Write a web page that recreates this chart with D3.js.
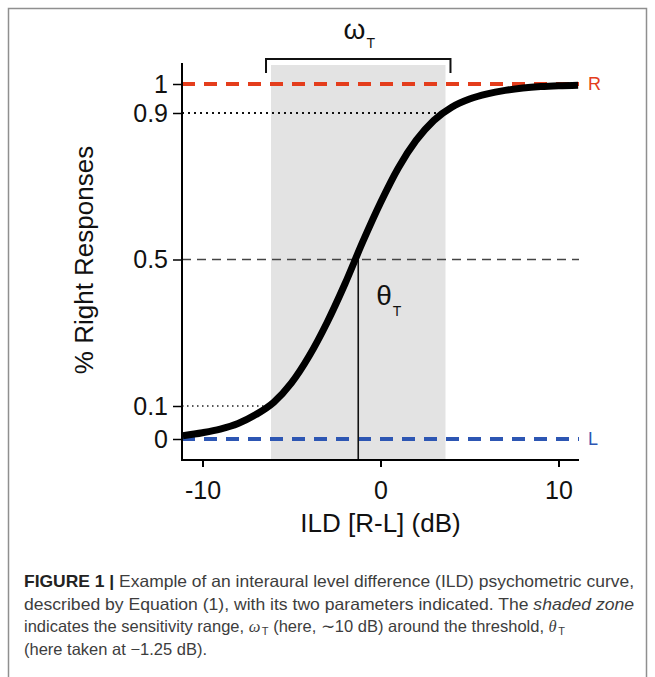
<!DOCTYPE html>
<html>
<head>
<meta charset="utf-8">
<script src="https://cdn.jsdelivr.net/npm/d3@7"></script>
<style>
  body { margin: 0; background: #fff; }
  svg { display: block; }
  text { font-family: "Liberation Sans", Arial, Helvetica, sans-serif; }
</style>
</head>
<body>
<svg id="fig" width="655" height="677"></svg>
<script>
// ILD psychometric curve: sampled ILD values (dB) and proportion of rightward responses
const ild    = [-11.1, -10,   -9,    -8,    -7,    -6,    -5,    -4,   -3,   -2,    -1,   0,     1,    2,     3,    4,    5,     6,     7,     8,     9,     10,    11.1];
const pRight = [0.010, 0.019, 0.030, 0.047, 0.074, 0.110, 0.163, 0.237, 0.328, 0.433, 0.548, 0.655, 0.750, 0.825, 0.880, 0.920, 0.948, 0.966, 0.978, 0.986, 0.991, 0.994, 0.996];

// Fitted parameters
const threshold = -1.25;      // θT (dB)
const sensitivityRange = 9.8; // ωT (dB), spans the 10%–90% responses

// Axes
const xDomain = [-11.15, 11.15];
const xTickValues = [-10, 0, 10];
const xTickLabels = ["-10", "0", "10"];
const yTickValues = [0, 0.1, 0.5, 0.9, 1];
const yTickLabels = ["0", "0.1", "0.5", "0.9", "1"];

// Response bounds (all-left / all-right)
const boundLevels = [1, 0];
const boundLabels = ["R", "L"];
const boundColors = ["#e43d1c", "#2d56b3"];

// Caption lines (the first two are justified to the full measure)
const captionLines = [
  [{t: "FIGURE 1 | ", w: "bold"}, {t: "Example of an interaural level difference (ILD) psychometric curve,"}],
  [{t: "described by Equation (1), with its two parameters indicated. The "}, {t: "shaded zone", i: true}],
  [{t: "indicates the sensitivity range, "}, {t: "ω", m: true}, {t: "T", sub: true}, {t: " (here, ∼10 dB) around the threshold, "}, {t: "θ", m: true}, {t: "T", sub: true}],
  [{t: "(here taken at −1.25 dB)."}]
];
const captionWidths = [610, 610, null, null];

const svg = d3.select("#fig");

// Frame
svg.append("rect")
  .attr("x", 8.5).attr("y", 8.5)
  .attr("width", 638).attr("height", 720)
  .attr("fill", "none").attr("stroke", "#8f8f8f").attr("stroke-width", 1.5);

// Plot geometry
const left = 182, right = 579, axisY = 460, axisTop = 63;

const x = d3.scaleLinear().domain(xDomain).range([left, right]);
// Piecewise-linear response scale through the labelled levels
const y = d3.scaleLinear().domain([0, 0.1, 0.9, 1]).range([439, 406, 113, 84]);

const lo = threshold - sensitivityRange / 2;
const hi = threshold + sensitivityRange / 2;

// Shaded sensitivity range
svg.append("rect")
  .attr("x", x(lo)).attr("y", 65)
  .attr("width", x(hi) - x(lo)).attr("height", axisY - 65)
  .attr("fill", "#e3e3e3");

// Bracket marking ωT
const bx0 = x(lo) - 5, bx1 = x(hi) + 5;
svg.append("path")
  .attr("d", `M${bx0},73V59H${bx1}V73`)
  .attr("fill", "none").attr("stroke", "#111").attr("stroke-width", 2);

const omega = svg.append("text")
  .attr("x", (bx0 + bx1) / 2 + 1).attr("y", 39)
  .attr("text-anchor", "middle").attr("font-size", 28).attr("fill", "#111");
omega.append("tspan").text("ω");
omega.append("tspan").attr("font-size", 14).attr("dy", 9).attr("dx", 1).text("T");

// 0.5 level, dashed
svg.append("line")
  .attr("x1", left).attr("x2", right)
  .attr("y1", y(0.5)).attr("y2", y(0.5))
  .attr("stroke", "#444").attr("stroke-width", 1.3)
  .attr("stroke-dasharray", "9,6");

// 0.9 and 0.1 levels, dotted up to the curve
svg.append("line")
  .attr("x1", left).attr("x2", x(hi) - 4)
  .attr("y1", y(0.9)).attr("y2", y(0.9))
  .attr("stroke", "#111").attr("stroke-width", 2)
  .attr("stroke-dasharray", "2,4");
svg.append("line")
  .attr("x1", left).attr("x2", x(lo) - 4)
  .attr("y1", y(0.1)).attr("y2", y(0.1))
  .attr("stroke", "#222").attr("stroke-width", 1.5)
  .attr("stroke-dasharray", "1.5,3.5");

// Bound lines and labels
boundLevels.forEach((lv, i) => {
  svg.append("line")
    .attr("x1", left).attr("x2", right)
    .attr("y1", y(lv)).attr("y2", y(lv))
    .attr("stroke", boundColors[i]).attr("stroke-width", 4)
    .attr("stroke-dasharray", "13,9");
  svg.append("text")
    .attr("x", right + 9).attr("y", y(lv))
    .attr("dy", "0.36em")
    .attr("font-size", 18).attr("fill", boundColors[i])
    .text(boundLabels[i]);
});

// Threshold marker
svg.append("line")
  .attr("x1", x(threshold)).attr("x2", x(threshold))
  .attr("y1", y(0.5)).attr("y2", axisY)
  .attr("stroke", "#111").attr("stroke-width", 1.6);

const theta = svg.append("text")
  .attr("x", x(threshold) + 18).attr("y", 305)
  .attr("font-size", 28).attr("fill", "#111");
theta.append("tspan").text("θ");
theta.append("tspan").attr("font-size", 14).attr("dy", 11).attr("dx", 1).text("T");

// Psychometric curve
const pts = ild.map((d, i) => [d, pRight[i]]);
svg.append("path")
  .datum(pts)
  .attr("d", d3.line().x(d => x(d[0])).y(d => y(d[1])).curve(d3.curveMonotoneX))
  .attr("fill", "none").attr("stroke", "#000").attr("stroke-width", 7);

// Axis lines
svg.append("line")
  .attr("x1", left).attr("x2", left).attr("y1", axisTop).attr("y2", axisY + 1)
  .attr("stroke", "#000").attr("stroke-width", 2);
svg.append("line")
  .attr("x1", left - 1).attr("x2", right).attr("y1", axisY).attr("y2", axisY)
  .attr("stroke", "#000").attr("stroke-width", 2);

// Y axis ticks
const yAxis = svg.append("g")
  .attr("transform", `translate(${left},0)`)
  .call(d3.axisLeft(y).tickValues(yTickValues)
    .tickFormat((d, i) => yTickLabels[i]).tickSize(9).tickPadding(5).tickSizeOuter(0));
yAxis.select(".domain").remove();
yAxis.selectAll("line").attr("stroke", "#000").attr("stroke-width", 1.5);
yAxis.selectAll("text").attr("font-size", 25).attr("fill", "#111")
  .attr("font-family", "\"Liberation Sans\", Arial, sans-serif");

// X axis ticks
const xAxis = svg.append("g")
  .attr("transform", `translate(0,${axisY})`)
  .call(d3.axisBottom(x).tickValues(xTickValues)
    .tickFormat((d, i) => xTickLabels[i]).tickSize(7).tickPadding(14).tickSizeOuter(0));
xAxis.select(".domain").remove();
xAxis.selectAll("line").attr("stroke", "#000").attr("stroke-width", 2);
xAxis.selectAll("text").attr("font-size", 25).attr("fill", "#111")
  .attr("font-family", "\"Liberation Sans\", Arial, sans-serif");

// Axis titles
svg.append("text")
  .attr("x", x(0)).attr("y", 532)
  .attr("text-anchor", "middle").attr("font-size", 26).attr("fill", "#111")
  .text("ILD [R-L] (dB)");
svg.append("text")
  .attr("transform", "translate(93,260) rotate(-90)")
  .attr("text-anchor", "middle").attr("font-size", 26).attr("fill", "#111")
  .text("% Right Responses");

// Caption
const capTop = 587, capStep = 22.6;
captionLines.forEach((parts, li) => {
  const t = svg.append("text")
    .attr("x", 24).attr("y", capTop + li * capStep)
    .attr("font-size", 16.5).attr("fill", "#3d3d3d");
  if (captionWidths[li]) {
    t.attr("textLength", captionWidths[li]).attr("lengthAdjust", "spacingAndGlyphs");
  }
  parts.forEach(p => {
    const s = t.append("tspan").text(p.t);
    if (p.w) s.attr("font-weight", p.w).attr("fill", "#222");
    if (p.i) s.attr("font-style", "italic");
    if (p.m) s.attr("font-style", "italic").attr("font-family", "\"Liberation Serif\", \"DejaVu Serif\", serif");
    if (p.sub) s.attr("font-size", 11).attr("dx", 1.5).attr("baseline-shift", "-3");
  });
});
</script>
</body>
</html>
